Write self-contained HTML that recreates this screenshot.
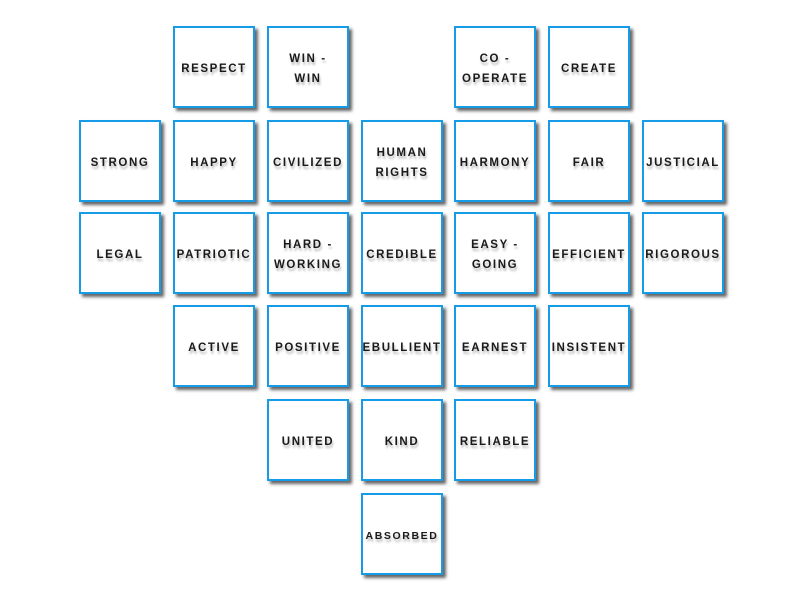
<!DOCTYPE html>
<html><head><meta charset="utf-8"><style>
body{margin:0;width:803px;height:597px;background:#fff;position:relative;overflow:hidden;font-family:"Liberation Sans",sans-serif}
.b{position:absolute;width:78px;height:78px;border:2.5px solid #169be6;background:#fff;box-shadow:3px 3px 3px #666;display:flex;align-items:center;justify-content:center;text-align:center;font-weight:bold;font-size:11.5px;letter-spacing:1.6px;line-height:20px;color:#1a1a1a;text-shadow:1px 3px 2px #bbb;padding-top:4px;box-sizing:content-box;height:74px}
</style></head><body>
<div class="b" style="left:173px;top:26px">RESPECT</div>
<div class="b" style="left:267px;top:26px">WIN -<br>WIN</div>
<div class="b" style="left:454px;top:26px">CO -<br>OPERATE</div>
<div class="b" style="left:548px;top:26px">CREATE</div>

<div class="b" style="left:79px;top:120px">STRONG</div>
<div class="b" style="left:173px;top:120px">HAPPY</div>
<div class="b" style="left:267px;top:120px">CIVILIZED</div>
<div class="b" style="left:361px;top:120px">HUMAN<br>RIGHTS</div>
<div class="b" style="left:454px;top:120px">HARMONY</div>
<div class="b" style="left:548px;top:120px">FAIR</div>
<div class="b" style="left:642px;top:120px">JUSTICIAL</div>

<div class="b" style="left:79px;top:212px">LEGAL</div>
<div class="b" style="left:173px;top:212px">PATRIOTIC</div>
<div class="b" style="left:267px;top:212px">HARD -<br>WORKING</div>
<div class="b" style="left:361px;top:212px">CREDIBLE</div>
<div class="b" style="left:454px;top:212px">EASY -<br>GOING</div>
<div class="b" style="left:548px;top:212px">EFFICIENT</div>
<div class="b" style="left:642px;top:212px">RIGOROUS</div>

<div class="b" style="left:173px;top:305px">ACTIVE</div>
<div class="b" style="left:267px;top:305px">POSITIVE</div>
<div class="b" style="left:361px;top:305px">EBULLIENT</div>
<div class="b" style="left:454px;top:305px">EARNEST</div>
<div class="b" style="left:548px;top:305px">INSISTENT</div>

<div class="b" style="left:267px;top:399px">UNITED</div>
<div class="b" style="left:361px;top:399px">KIND</div>
<div class="b" style="left:454px;top:399px">RELIABLE</div>

<div class="b" style="left:361px;top:493px;font-size:10.5px">ABSORBED</div>
</body></html>
